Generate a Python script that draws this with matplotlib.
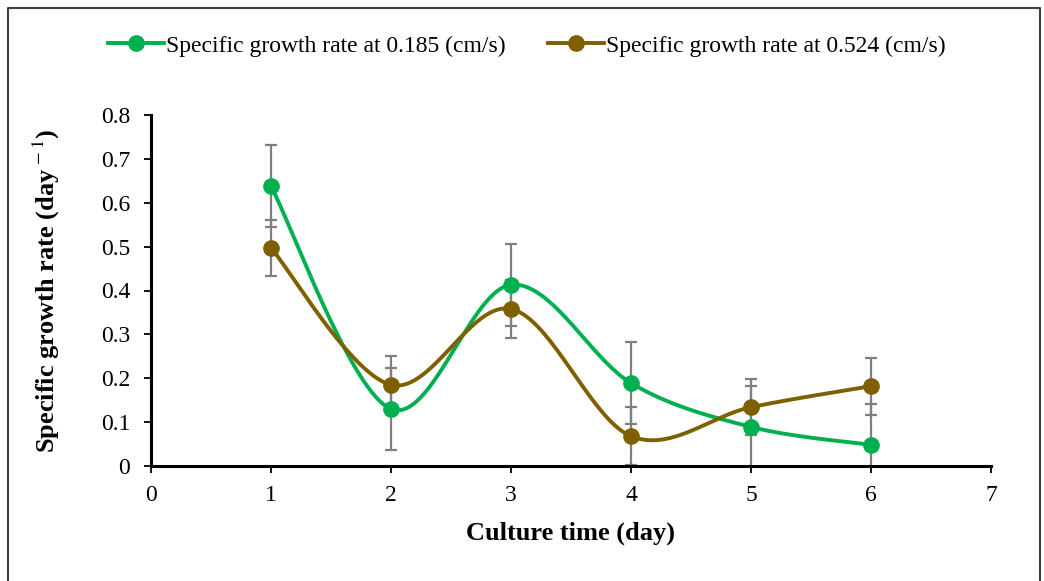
import numpy as np
import matplotlib
matplotlib.use('Agg')
import matplotlib.pyplot as plt
from matplotlib.lines import Line2D

# culture time (day) and specific growth rates (1/day)
days = [1, 2, 3, 4, 5, 6]
rate_low = [0.638, 0.130, 0.413, 0.189, 0.089, 0.048]
err_low = [0.093, 0.094, 0.093, 0.094, 0.093, 0.093]
rate_high = [0.497, 0.185, 0.358, 0.068, 0.134, 0.182]
err_high = [0.064, 0.066, 0.066, 0.066, 0.064, 0.065]

GREEN = '#00B050'
BROWN = '#7F6000'
ERR = '#7F7F7F'

plt.rcParams['font.family'] = ['Liberation Serif', 'DejaVu Serif']
plt.rcParams['mathtext.fontset'] = 'stix'


def smooth(x, y, n=40):
    # cubic bezier through the points, Catmull-Rom style control points
    x = np.asarray(x, float)
    y = np.asarray(y, float)
    px = np.concatenate([[x[0]], x, [x[-1]]])
    py = np.concatenate([[y[0]], y, [y[-1]]])
    xs, ys = [], []
    t = np.linspace(0, 1, n)
    for i in range(1, len(x)):
        p0 = np.array([px[i], py[i]])
        p3 = np.array([px[i + 1], py[i + 1]])
        c1 = p0 + (np.array([px[i + 1], py[i + 1]]) - np.array([px[i - 1], py[i - 1]])) / 6
        c2 = p3 - (np.array([px[i + 2], py[i + 2]]) - np.array([px[i], py[i]])) / 6
        b = ((1 - t) ** 3)[:, None] * p0 + (3 * (1 - t) ** 2 * t)[:, None] * c1 \
            + (3 * (1 - t) * t ** 2)[:, None] * c2 + (t ** 3)[:, None] * p3
        xs.extend(b[:, 0])
        ys.extend(b[:, 1])
    return np.array(xs), np.array(ys)


fig = plt.figure(figsize=(10.44, 5.81), dpi=100)
ax = fig.add_axes([0.1446, 0.198, 0.8046, 0.604])

for vals, errs, color, label in [(rate_low, err_low, GREEN, 'Specific growth rate at 0.185 (cm/s)'),
                                 (rate_high, err_high, BROWN, 'Specific growth rate at 0.524 (cm/s)')]:
    ax.errorbar(days, vals, yerr=errs, fmt='none', ecolor=ERR, elinewidth=1.6,
                capsize=4.5, capthick=1.6, zorder=2)
    sx, sy = smooth(days, vals)
    ax.plot(sx, sy, color=color, lw=2.8, zorder=3)
    ax.plot(days, vals, 'o', color=color, ms=11, zorder=4)
    # legend handle: line with marker
    ax.plot([], [], '-o', color=color, lw=2.8, ms=11, label=label)

ax.set_xlim(0, 7)
ax.set_ylim(0, 0.8)
ax.set_xticks(range(0, 8))
ax.set_yticks(np.arange(0, 0.81, 0.1))
ax.set_yticklabels(['0'] + ['%.1f' % v for v in np.arange(0.1, 0.81, 0.1)])
ax.tick_params(labelsize=17, direction='out', length=5, width=1.3, colors='black')
ax.tick_params(axis='y', pad=10)
ax.tick_params(axis='x', pad=9)

for s in ['top', 'right']:
    ax.spines[s].set_visible(False)
for s in ['left', 'bottom']:
    ax.spines[s].set_color('black')
    ax.spines[s].set_linewidth(2.2)

ax.set_xlabel('Culture time (day)', fontsize=19, fontweight='bold', labelpad=11)
ax.set_ylabel(r'Specific growth rate (day$^{\,-1}$)', fontsize=19, fontweight='bold', labelpad=28)

handles, labels = ax.get_legend_handles_labels()
fig.legend(handles, labels, loc='center', bbox_to_anchor=(0.505, 0.921), ncol=2,
           frameon=False, fontsize=17, handlelength=2.35, columnspacing=1.8, handletextpad=0.1)

# outer chart border (bottom edge runs past the canvas)
fig.add_artist(Line2D([7.5 / 1044, 7.5 / 1044, 1040 / 1044, 1040 / 1044],
                      [-0.01, 1 - 8 / 581, 1 - 8 / 581, -0.01],
                      transform=fig.transFigure, color='#404040', lw=1.5))

fig.savefig('out.png', dpi=100)
